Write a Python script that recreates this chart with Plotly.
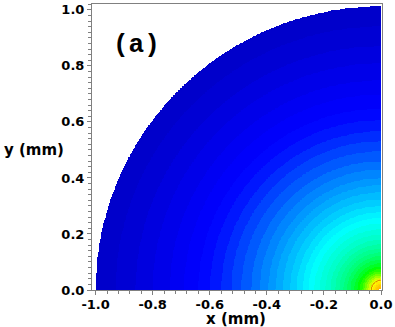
import numpy as np
import plotly.graph_objects as go

# radial profile: outer radius of each band (mm) and its colour level
ring_r = [0.012, 0.018, 0.024, 0.030, 0.035, 0.040, 0.046, 0.053, 0.060, 0.067,
          0.075, 0.084, 0.095, 0.108, 0.120, 0.133, 0.147, 0.162, 0.178, 0.196,
          0.215, 0.235, 0.255, 0.275, 0.297, 0.320, 0.345, 0.370, 0.395, 0.425,
          0.455, 0.490, 0.525, 0.560, 0.600, 0.640, 0.690, 0.740, 0.800, 0.860,
          0.930, 1.000]
ring_level = [0.855, 0.845, 0.832, 0.818, 0.803, 0.785, 0.760, 0.725, 0.690, 0.655,
              0.625, 0.595, 0.562, 0.530, 0.503, 0.478, 0.458, 0.440, 0.420, 0.400,
              0.385, 0.368, 0.352, 0.338, 0.322, 0.305, 0.290, 0.272, 0.257, 0.240,
              0.222, 0.200, 0.180, 0.160, 0.140, 0.125, 0.112, 0.095, 0.075, 0.055,
              0.035, 0.015]
hole_r = 0.008
contour_level = 0.80

x_tick_vals = [-1.0, -0.8, -0.6, -0.4, -0.2, 0.0]
x_tick_labels = ["-1.0", "-0.8", "-0.6", "-0.4", "-0.2", "0.0"]
y_tick_vals = [0.0, 0.2, 0.4, 0.6, 0.8, 1.0]
y_tick_labels = ["0.0", "0.2", "0.4", "0.6", "0.8", "1.0"]

rainbow = [
    [0.00, "rgb(0,0,195)"],
    [0.12, "rgb(0,0,255)"],
    [0.35, "rgb(0,255,255)"],
    [0.60, "rgb(0,255,0)"],
    [0.80, "rgb(255,255,0)"],
    [1.00, "rgb(255,0,0)"],
]

# grid over the quarter disc
xs = np.linspace(-1.0126, 0.0035, 420)
ys = np.linspace(0.0, 1.021, 420)
X, Y = np.meshgrid(xs, ys)
R = np.sqrt(X ** 2 + (Y / 1.012) ** 2)

radii = np.array(ring_r)
levels = np.array(ring_level + [np.nan])
idx = np.searchsorted(radii, R)
Z = levels[idx]
Z[R < hole_r] = np.nan
Z[X > 0] = np.nan

fig = go.Figure()
fig.add_trace(go.Heatmap(
    x=xs, y=ys, z=Z,
    colorscale=rainbow, zmin=0, zmax=1,
    zsmooth=False, showscale=False, hoverinfo="skip",
))
fig.add_trace(go.Contour(
    x=xs, y=ys, z=Z,
    contours=dict(start=contour_level, end=contour_level, size=1, coloring="none"),
    line=dict(color="rgb(215,95,0)", width=1),
    showscale=False, hoverinfo="skip",
))

tick_font = dict(family="DejaVu Sans", size=13, color="black", weight="bold")
title_font = dict(family="DejaVu Sans", size=15, color="black", weight="bold")

axis_common = dict(
    showgrid=False, zeroline=False, automargin=False,
    showline=True, linecolor="gray", linewidth=1, mirror=True,
    ticks="outside", ticklen=4, tickcolor="gray",
    tickfont=tick_font,
)

fig.update_xaxes(
    range=[-1.0126, 0.0035],
    tickvals=x_tick_vals, ticktext=x_tick_labels,
    ticklabelstandoff=-2,
    minor=dict(dtick=0.04, ticks="outside", ticklen=3, tickcolor="gray"),
    **axis_common,
)
fig.update_yaxes(
    range=[0.0, 1.021],
    tickvals=y_tick_vals, ticktext=y_tick_labels,
    minor=dict(dtick=0.02, ticks="outside", ticklen=3, tickcolor="gray"),
    **axis_common,
)

fig.add_annotation(text="y (mm)", xref="paper", yref="paper", x=-0.20, y=0.49,
                   showarrow=False, font=title_font, xanchor="center", yanchor="middle")
fig.add_annotation(text="x (mm)", xref="paper", yref="paper", x=0.497, y=-0.103,
                   showarrow=False, font=title_font, xanchor="center", yanchor="middle")
fig.add_annotation(text="(a)", xref="paper", yref="paper", x=0.152, y=0.857,
                   showarrow=False, xanchor="center", yanchor="middle",
                   font=dict(family="Liberation Mono", size=26, color="black", weight="bold"))

fig.update_layout(
    width=395, height=327,
    margin=dict(l=92, r=13, t=4, b=37),
    paper_bgcolor="white", plot_bgcolor="white",
    showlegend=False,
)

# drop the browser's default body margin so the figure sits at the page corner
fig.write_html("out.html", config={"displayModeBar": False},
               post_script="document.body.style.margin = '0';")
